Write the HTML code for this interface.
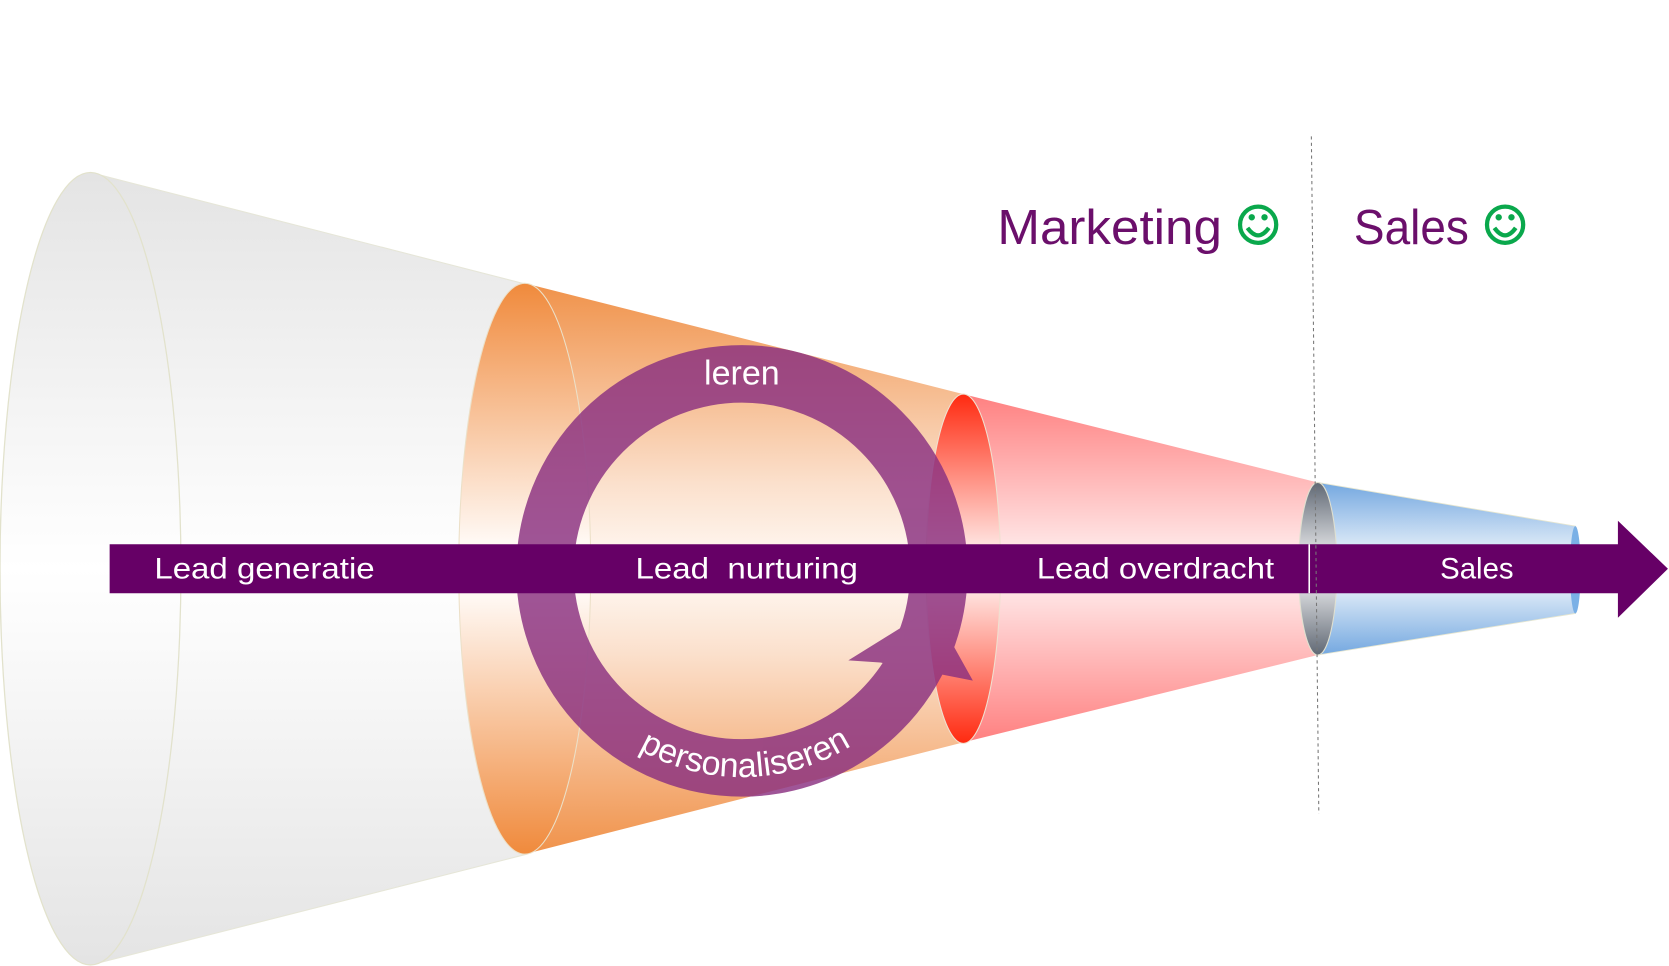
<!DOCTYPE html>
<html><head><meta charset="utf-8">
<style>html,body{margin:0;padding:0;background:#fff;overflow:hidden}svg{display:block}</style>
</head><body>
<svg width="1669" height="966" viewBox="0 0 1568 907" preserveAspectRatio="none" xmlns="http://www.w3.org/2000/svg" font-family="Liberation Sans, sans-serif">
<defs>
<linearGradient id="gw" x1="0" y1="0" x2="0" y2="1">
<stop offset="0" stop-color="#e4e4e4"/><stop offset="0.5" stop-color="#ffffff"/><stop offset="1" stop-color="#e4e4e4"/></linearGradient>
<linearGradient id="go" x1="0" y1="0" x2="0" y2="1">
<stop offset="0" stop-color="#f08a3c"/><stop offset="0.45" stop-color="#fff8f3"/><stop offset="0.55" stop-color="#fff8f3"/><stop offset="1" stop-color="#f08a3c"/></linearGradient>
<linearGradient id="go2" x1="0" y1="0" x2="0" y2="1">
<stop offset="0" stop-color="#f0924a"/><stop offset="0.35" stop-color="#fbe0cc"/><stop offset="0.5" stop-color="#fffaf6"/><stop offset="0.65" stop-color="#fbe0cc"/><stop offset="1" stop-color="#f0924a"/></linearGradient>
<linearGradient id="gr" x1="0" y1="0" x2="0" y2="1">
<stop offset="0" stop-color="#ff8080"/><stop offset="0.5" stop-color="#fff4f4"/><stop offset="1" stop-color="#ff8080"/></linearGradient>
<linearGradient id="gr2" x1="0" y1="0" x2="0" y2="1">
<stop offset="0" stop-color="#ff2a10"/><stop offset="0.5" stop-color="#ffffff"/><stop offset="1" stop-color="#ff2a10"/></linearGradient>
<linearGradient id="gb" x1="0" y1="0" x2="0" y2="1">
<stop offset="0" stop-color="#74a8e0"/><stop offset="0.5" stop-color="#ffffff"/><stop offset="1" stop-color="#74a8e0"/></linearGradient>
<linearGradient id="gg" x1="0" y1="0" x2="0" y2="1">
<stop offset="0" stop-color="#606874"/><stop offset="0.5" stop-color="#ffffff"/><stop offset="1" stop-color="#606874"/></linearGradient>
<path id="arcp" d="M 546 658 A 195 195 0 0 0 848 658"/>
</defs>

<polygon points="85,162 495,267 495,802 85,906" fill="url(#gw)" stroke="#e6e6d8" stroke-width="1"/>
<ellipse cx="85" cy="534" rx="85" ry="372" fill="url(#gw)" stroke="#e2e2cc" stroke-width="1.2"/>

<polygon points="493,266 905,370 905,697 493,802" fill="url(#go2)"/>
<ellipse cx="493" cy="534" rx="62" ry="268" fill="url(#go)" stroke="#ece0c8" stroke-width="1"/>

<polygon points="905,370 1238,453 1238,615 905,697" fill="url(#gr)"/>
<ellipse cx="905" cy="534" rx="35" ry="164" fill="url(#gr2)" stroke="#f0e0d0" stroke-width="1"/>

<polygon points="1238,453 1480,494 1480,576 1238,615" fill="url(#gb)" stroke="#e6e6d0" stroke-width="0.8"/>
<ellipse cx="1238" cy="534" rx="18" ry="81" fill="url(#gg)" stroke="#e0e0d0" stroke-width="1"/>
<ellipse cx="1480" cy="535" rx="5" ry="41" fill="#7ab0e6"/>

<g opacity="0.82">
<circle cx="697" cy="536" r="185" fill="none" stroke="#8a3080" stroke-width="54"/>
<polygon points="797,620 876,571 914,639 827,622" fill="#8a3080"/>
</g>

<polygon points="103,511 1520,511 1520,489 1567,534 1520,580 1520,557 103,557" fill="#660066"/>
<line x1="1230" y1="511" x2="1230" y2="557" stroke="#fff" stroke-width="1.5"/>

<line x1="1232" y1="128" x2="1239" y2="764" stroke="#777" stroke-width="1" stroke-dasharray="3,3"/>

<g fill="#fff" font-size="28">
<text x="145" y="543" textLength="207" lengthAdjust="spacingAndGlyphs">Lead generatie</text>
<text x="597" y="543" textLength="209" lengthAdjust="spacingAndGlyphs" xml:space="preserve">Lead  nurturing</text>
<text x="974" y="543" textLength="223" lengthAdjust="spacingAndGlyphs">Lead overdracht</text>
<text x="1353" y="543" textLength="69" lengthAdjust="spacingAndGlyphs">Sales</text>
</g>

<text x="697" y="361" fill="#fff" font-size="32" text-anchor="middle">leren</text>
<text fill="#fff" font-size="32"><textPath href="#arcp" startOffset="51%" text-anchor="middle">personaliseren</textPath></text>

<g fill="#6b0f6b" font-size="46">
<text x="937" y="229" textLength="211" lengthAdjust="spacingAndGlyphs">Marketing</text>
<text x="1272" y="229" textLength="108" lengthAdjust="spacingAndGlyphs">Sales</text>
</g>
<g fill="none" stroke="#0aa84c" stroke-width="4">
<circle cx="1182" cy="211" r="17"/>
<path d="M1172 214 Q1182 228 1192 214"/>
<circle cx="1414" cy="211" r="17"/>
<path d="M1404 214 Q1414 228 1424 214"/>
</g>
<g fill="#0aa84c">
<circle cx="1176" cy="204" r="3"/><circle cx="1188" cy="204" r="3"/>
<circle cx="1408" cy="204" r="3"/><circle cx="1420" cy="204" r="3"/>
</g>
</svg>
</body></html>
